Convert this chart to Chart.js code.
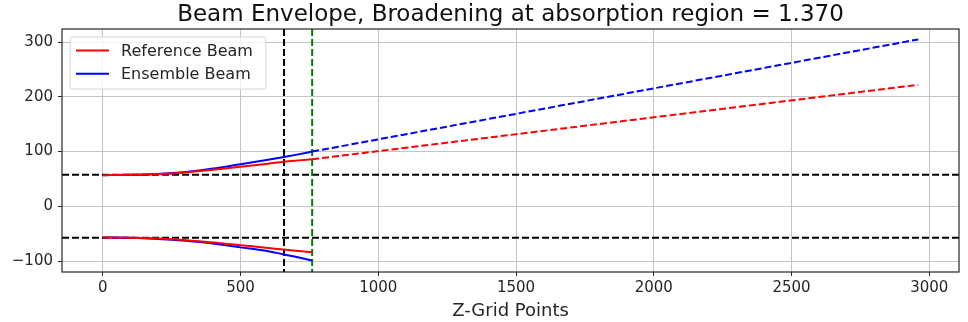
<!DOCTYPE html>
<html>
<head>
<meta charset="utf-8">
<script src="https://cdn.jsdelivr.net/npm/chart.js@4.4.1/dist/chart.umd.min.js"></script>
<style>
html,body{margin:0;padding:0;background:#fff;}
#wrap{width:968px;height:322px;}
</style>
</head>
<body>
<div id="wrap"><canvas id="c" width="968" height="322"></canvas></div>
<script>
// ---- data ----
const zCore      = [0, 100, 200, 300, 400, 500, 600, 658, 700, 760];
const refUpper   = [57, 57.5, 59, 62, 67, 72.5, 78, 81.5, 83.5, 86];
const ensUpper   = [57, 57.5, 59, 62.5, 69, 77, 85, 90, 94, 100];
const refLower   = [-57, -57.5, -59, -62, -66, -71, -76, -79, -81, -84];
const ensLower   = [-57, -57.5, -59.5, -63, -68, -75, -82, -88, -92, -99];
const zExt       = [760, 2960];
const refExt     = [86, 222];
const ensExt     = [100, 305];
const hLines     = [57.5, -57.5];
const vLineBlack = 658;
const vLineGreen = 760;
const xTicks     = [0, 500, 1000, 1500, 2000, 2500, 3000];
const yTicks     = [-100, 0, 100, 200, 300];
const legendLabels = ['Reference Beam', 'Ensemble Beam'];
const titleText  = 'Beam Envelope, Broadening at absorption region = 1.370';
const xLabel     = 'Z-Grid Points';

const pts = (xs, ys) => xs.map((x, i) => ({x: x, y: ys[i]}));
const RED = '#ff0000', BLUE = '#0000ff';
const DASH = [7, 3];
const FONT = "'DejaVu Sans', sans-serif";
const TXT = '#262626';

function line(data, color, dashed) {
  return {data: data, borderColor: color, backgroundColor: color, borderWidth: 2,
    borderDash: dashed ? DASH : [], pointRadius: 0, fill: false, showLine: true,
    cubicInterpolationMode: 'monotone'};
}

const refPlugin = {
  id: 'refLines',
  beforeDatasetsDraw(chart) {
    const {ctx, chartArea: a, scales: {x, y}} = chart;
    ctx.save();
    ctx.beginPath(); ctx.rect(a.left, a.top, a.right - a.left, a.bottom - a.top); ctx.clip();
    ctx.lineWidth = 2; ctx.setLineDash(DASH);
    ctx.strokeStyle = '#000';
    hLines.forEach(v => {
      const py = y.getPixelForValue(v);
      ctx.beginPath(); ctx.moveTo(a.left, py); ctx.lineTo(a.right, py); ctx.stroke();
    });
    let px = x.getPixelForValue(vLineBlack);
    ctx.beginPath(); ctx.moveTo(px, a.top); ctx.lineTo(px, a.bottom); ctx.stroke();
    ctx.strokeStyle = '#008000';
    px = x.getPixelForValue(vLineGreen);
    ctx.beginPath(); ctx.moveTo(px, a.top); ctx.lineTo(px, a.bottom); ctx.stroke();
    ctx.restore();
  },
  afterDraw(chart) {
    const {ctx, chartArea: a} = chart;
    ctx.save();
    // frame
    ctx.strokeStyle = TXT; ctx.lineWidth = 1.2; ctx.setLineDash([]);
    ctx.strokeRect(a.left, a.top, a.right - a.left, a.bottom - a.top);
    // legend
    const lx = a.left + 8, ly = a.top + 8, lw = 196, lh = 52, r = 3;
    ctx.beginPath();
    ctx.moveTo(lx + r, ly); ctx.lineTo(lx + lw - r, ly); ctx.quadraticCurveTo(lx + lw, ly, lx + lw, ly + r);
    ctx.lineTo(lx + lw, ly + lh - r); ctx.quadraticCurveTo(lx + lw, ly + lh, lx + lw - r, ly + lh);
    ctx.lineTo(lx + r, ly + lh); ctx.quadraticCurveTo(lx, ly + lh, lx, ly + lh - r);
    ctx.lineTo(lx, ly + r); ctx.quadraticCurveTo(lx, ly, lx + r, ly); ctx.closePath();
    ctx.fillStyle = 'rgba(255,255,255,0.8)'; ctx.fill();
    ctx.strokeStyle = '#d4d4d4'; ctx.lineWidth = 1; ctx.stroke();
    const colors = [RED, BLUE];
    ctx.font = '16px ' + FONT; ctx.textBaseline = 'middle'; ctx.textAlign = 'left';
    legendLabels.forEach((t, i) => {
      const yy = ly + 13.5 + i * 23.3;
      ctx.strokeStyle = colors[i]; ctx.lineWidth = 2;
      ctx.beginPath(); ctx.moveTo(lx + 6, yy); ctx.lineTo(lx + 39, yy); ctx.stroke();
      ctx.fillStyle = TXT;
      ctx.fillText(t, lx + 51, yy + 1);
    });
    ctx.restore();
  }
};

new Chart(document.getElementById('c'), {
  type: 'scatter',
  data: {
    datasets: [
      line(pts(zCore, refUpper), RED, false),
      line(pts(zCore, ensUpper), BLUE, false),
      line(pts(zCore, refLower), RED, false),
      line(pts(zCore, ensLower), BLUE, false),
      line(pts(zExt, refExt), RED, true),
      line(pts(zExt, ensExt), BLUE, true)
    ]
  },
  options: {
    responsive: false,
    animation: false,
    devicePixelRatio: 1,
    layout: {padding: {left: 0, right: 9, top: 0, bottom: 0}},
    plugins: {
      legend: {display: false},
      tooltip: {enabled: false},
      title: {display: true, text: titleText, fullSize: false,
        color: '#111', font: {family: FONT, size: 23, weight: 'normal', lineHeight: 1.1},
        padding: {top: 2.5, bottom: 1.2}}
    },
    scales: {
      x: {
        type: 'linear', min: -148, max: 3108,
        afterBuildTicks: s => { s.ticks = xTicks.map(v => ({value: v})); },
        afterFit: s => { s.height = 50; },
        ticks: {color: TXT, font: {family: FONT, size: 15}, padding: 3, maxRotation: 0,
          callback: v => String(v)},
        grid: {color: '#c4c4c4', lineWidth: 1, tickLength: 4, tickColor: TXT},
        border: {display: false},
        title: {display: true, text: xLabel, color: TXT, font: {family: FONT, size: 18}, padding: {top: 0, bottom: 0}}
      },
      y: {
        type: 'linear', min: -120, max: 324,
        afterBuildTicks: s => { s.ticks = yTicks.map(v => ({value: v})); },
        afterFit: s => { s.width = 62; },
        ticks: {color: TXT, font: {family: FONT, size: 15}, padding: 5,
          callback: v => (v < 0 ? '\u2212' + Math.abs(v) : String(v))},
        grid: {color: '#c4c4c4', lineWidth: 1, tickLength: 4, tickColor: TXT},
        border: {display: false}
      }
    }
  },
  plugins: [refPlugin]
});
</script>
</body>
</html>
